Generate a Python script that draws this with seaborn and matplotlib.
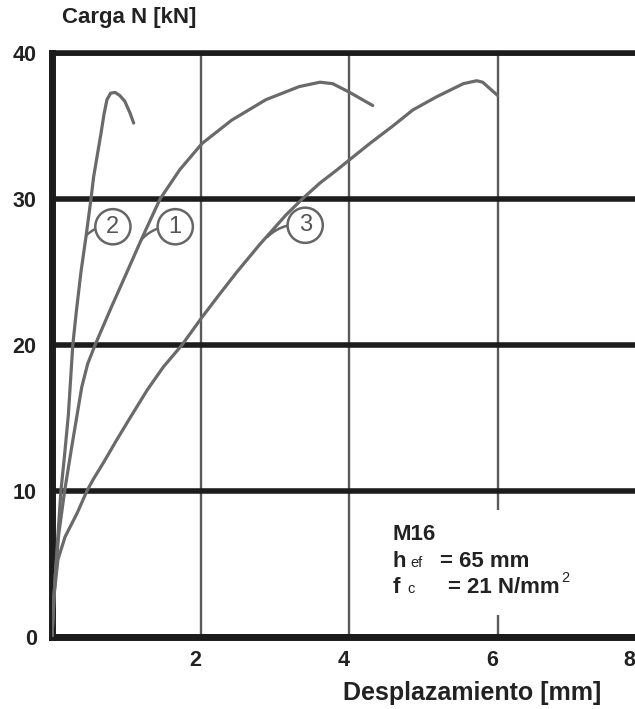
import matplotlib
matplotlib.use("Agg")
import matplotlib.pyplot as plt
import matplotlib.transforms as mtransforms
from matplotlib.patches import Rectangle
import pandas as pd
import seaborn as sns

# Load-displacement readings for the three anchor tests
disp_1 = [0.0, 0.04, 0.09, 0.17, 0.265, 0.40, 0.48, 0.58, 0.80, 1.01, 1.21, 1.455, 1.72, 2.02, 2.42, 2.88, 3.33, 3.61, 3.78, 4.01, 4.32]
load_1 = [0.0, 4.0, 7.0, 10.0, 13.0, 17.1, 18.7, 20.0, 22.6, 25.0, 27.3, 30.0, 32.0, 33.8, 35.4, 36.8, 37.7, 38.0, 37.9, 37.3, 36.4]

disp_2 = [0.0, 0.03, 0.07, 0.12, 0.17, 0.22, 0.25, 0.28, 0.33, 0.39, 0.46, 0.525, 0.56, 0.61, 0.66, 0.70, 0.74, 0.79, 0.85, 0.91, 0.98, 1.05, 1.10]
load_2 = [0.0, 3.0, 6.2, 10.0, 12.5, 15.2, 17.6, 20.0, 22.4, 25.0, 27.5, 30.0, 31.5, 33.0, 34.5, 35.8, 36.8, 37.25, 37.3, 37.1, 36.7, 35.9, 35.2]

disp_3 = [0.0, 0.02, 0.08, 0.175, 0.34, 0.47, 0.55, 0.70, 0.86, 1.05, 1.28, 1.50, 1.75, 2.02, 2.26, 2.49, 2.80, 2.94, 3.15, 3.37, 3.61, 3.84, 4.01, 4.28, 4.59, 4.86, 5.18, 5.54, 5.72, 5.80, 6.00]
load_3 = [0.0, 2.5, 5.3, 6.85, 8.5, 10.0, 10.75, 12.0, 13.4, 15.0, 16.9, 18.5, 20.0, 21.9, 23.5, 25.0, 26.9, 27.7, 28.9, 30.0, 31.1, 32.0, 32.7, 33.8, 35.0, 36.1, 37.0, 37.9, 38.1, 38.0, 37.1]

curve_ids = ["1", "2", "3"]
curve_disp = [disp_1, disp_2, disp_3]
curve_load = [load_1, load_2, load_3]

# Circled curve numbers: (label, circle centre, point on curve)
tags = ["2", "1", "3"]
tag_centres = [(0.82, 28.1), (1.66, 28.1), (3.41, 28.2)]
tag_anchors = [(0.46, 27.5), (1.20, 27.2), (2.90, 27.4)]

x_ticks = [2, 4, 6, 8]
y_ticks = [0, 10, 20, 30, 40]

frames = []
for cid, xs, ys in zip(curve_ids, curve_disp, curve_load):
    frames.append(pd.DataFrame({"curva": cid, "desplazamiento": xs, "carga": ys}))
df = pd.concat(frames, ignore_index=True)

sns.set_theme(style="white")
plt.rcParams["font.family"] = ["Liberation Sans", "DejaVu Sans"]

ink = "#222222"
curve_grey = "#6a6a6a"

fig = plt.figure(figsize=(6.35, 7.09), dpi=100)
ax = fig.add_axes([52 / 635, 72 / 709, 594 / 635, 584 / 709])

sns.lineplot(data=df, x="desplazamiento", y="carga", units="curva", estimator=None,
             sort=False, color=curve_grey, linewidth=2.3, ax=ax, zorder=3,
             solid_joinstyle="round", solid_capstyle="round")

ax.set_xlim(0, 8)
ax.set_ylim(0, 40)
ax.set_xticks(x_ticks)
ax.set_yticks(y_ticks)
ax.set_xlabel("")
ax.set_ylabel("")

ax.set_axisbelow(True)
ax.xaxis.grid(True, color="#5a5a5a", linewidth=1.7)
ax.yaxis.grid(True, color="#1c1c1c", linewidth=4.0)

for side in ["left", "bottom"]:
    ax.spines[side].set_color("#1c1c1c")
    ax.spines[side].set_linewidth(5.0)
ax.spines["top"].set_color("#1c1c1c")
ax.spines["top"].set_linewidth(4.0)
ax.spines["right"].set_visible(False)

ax.tick_params(axis="both", length=0, labelsize=15.5, labelcolor=ink)
ax.tick_params(axis="y", pad=11)
ax.tick_params(axis="x", pad=9)
for lab in ax.get_xticklabels() + ax.get_yticklabels():
    lab.set_fontweight("bold")

# nudge the x tick labels left; the last one sits at the page edge
xlabels = ax.get_xticklabels()
for i, lab in enumerate(xlabels):
    dx = -17 if i == len(xlabels) - 1 else -5
    lab.set_transform(lab.get_transform() + mtransforms.ScaledTranslation(dx / 100, 0, fig.dpi_scale_trans))

# circled curve numbers with short leader lines
for tag, centre, anchor in zip(tags, tag_centres, tag_anchors):
    ax.annotate(tag, xy=anchor, xytext=centre, ha="center", va="center",
                fontsize=17, color="#555555", zorder=4,
                bbox=dict(boxstyle="circle,pad=0.28", fc="white", ec="#666666", lw=1.8),
                arrowprops=dict(arrowstyle="-", color="#666666", lw=1.8,
                                shrinkA=0, shrinkB=0, connectionstyle="arc3,rad=0.25"))

# clear area behind the specimen data
ax.add_patch(Rectangle((0.575, 0.038), 0.32, 0.18, transform=ax.transAxes,
                       facecolor="white", edgecolor="none", zorder=1))

tx = dict(transform=ax.transAxes, color=ink, va="baseline", zorder=5)
ax.text(0.574, 0.166, "M16", fontsize=16, fontweight="bold", **tx)
ax.text(0.574, 0.120, "h", fontsize=16, fontweight="bold", **tx)
ax.text(0.604, 0.120, "ef", fontsize=10.5, **tx)
ax.text(0.653, 0.120, "= 65 mm", fontsize=16, fontweight="bold", **tx)
ax.text(0.574, 0.075, "f", fontsize=16, fontweight="bold", **tx)
ax.text(0.598, 0.075, "c", fontsize=10.5, **tx)
ax.text(0.667, 0.075, "= 21 N/mm", fontsize=16, fontweight="bold", **tx)
ax.text(0.857, 0.094, "2", fontsize=10.5, **tx)

fig.text(62 / 635, 1 - 18 / 709, "Carga N [kN]", ha="left", va="center",
         fontsize=16, fontweight="bold", color=ink)
fig.text(472 / 635, 1 - 693 / 709, "Desplazamiento [mm]", ha="center", va="center",
         fontsize=18, fontweight="bold", color=ink)

fig.savefig("out.png", dpi=100, facecolor="white")
